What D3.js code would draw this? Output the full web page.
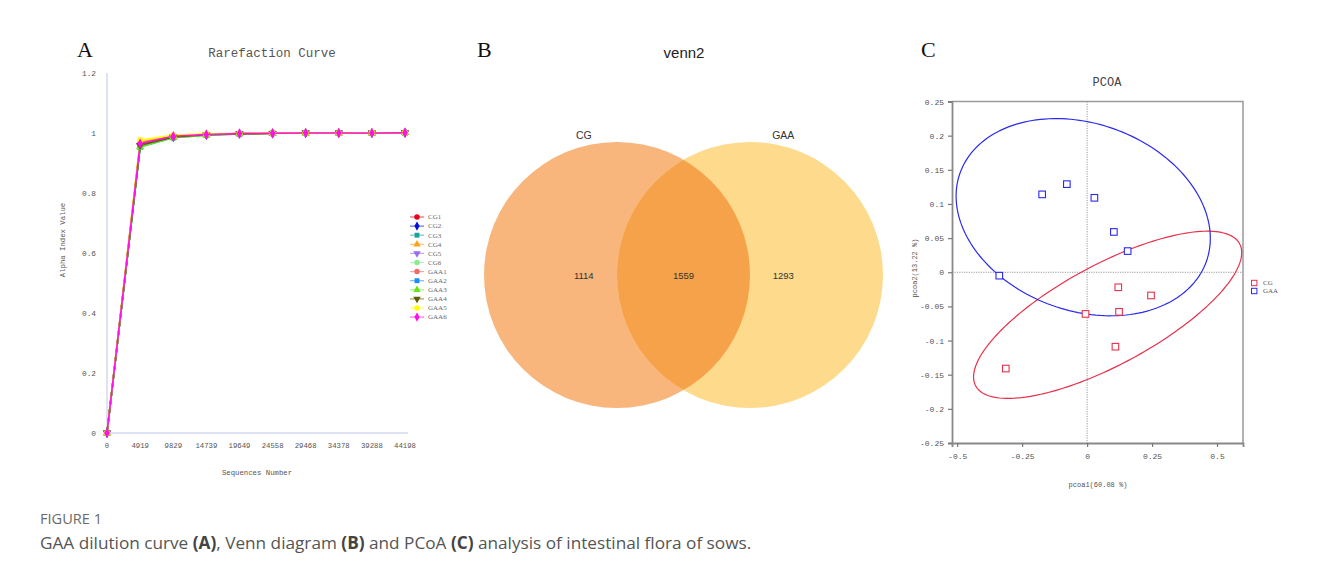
<!DOCTYPE html>
<html><head><meta charset="utf-8">
<script src="https://cdn.jsdelivr.net/npm/d3@7"></script>
<style>body{margin:0;background:#fff}svg{display:block}</style>
</head><body>
<svg id="fig" width="1319" height="577"></svg>
<script>
// ---------- Panel A data ----------
const seqNumbers = [0, 4919, 9829, 14739, 19649, 24558, 29468, 34378, 39288, 44198];
const sampleNames = ["CG1","CG2","CG3","CG4","CG5","CG6","GAA1","GAA2","GAA3","GAA4","GAA5","GAA6"];
const sampleColors = ["#e8001c","#0010e0","#1aa39a","#ffa31a","#9a6cf0","#86ee8e","#f26b6b","#1a8cff","#66e61a","#5c5c00","#ffff00","#ff10e8"];
const sampleSymbols = ["circle","diamond","square","triangle","triangleDown","circle","circle","square","triangle","triangleDown","circle","diamond"];
const alphaCG1  = [0, 0.962, 0.988, 0.995, 0.998, 0.999, 1.000, 1.000, 1.000, 1.001];
const alphaCG2  = [0, 0.960, 0.987, 0.994, 0.998, 0.999, 1.000, 1.000, 1.000, 1.001];
const alphaCG3  = [0, 0.953, 0.984, 0.993, 0.997, 0.999, 1.000, 1.000, 1.000, 1.001];
const alphaCG4  = [0, 0.970, 0.991, 0.996, 0.998, 0.999, 1.000, 1.000, 1.000, 1.001];
const alphaCG5  = [0, 0.958, 0.986, 0.994, 0.998, 0.999, 1.000, 1.000, 1.000, 1.001];
const alphaCG6  = [0, 0.955, 0.985, 0.993, 0.997, 0.999, 1.000, 1.000, 1.000, 1.001];
const alphaGAA1 = [0, 0.964, 0.989, 0.995, 0.998, 0.999, 1.000, 1.000, 1.000, 1.001];
const alphaGAA2 = [0, 0.957, 0.986, 0.994, 0.998, 0.999, 1.000, 1.000, 1.000, 1.001];
const alphaGAA3 = [0, 0.954, 0.985, 0.993, 0.997, 0.999, 1.000, 1.000, 1.000, 1.001];
const alphaGAA4 = [0, 0.959, 0.987, 0.994, 0.998, 0.999, 1.000, 1.000, 1.000, 1.001];
const alphaGAA5 = [0, 0.976, 0.993, 0.997, 0.999, 1.000, 1.000, 1.000, 1.001, 1.001];
const alphaGAA6 = [0, 0.965, 0.989, 0.995, 0.998, 0.999, 1.000, 1.000, 1.000, 1.001];
const alphaSeries = [alphaCG1,alphaCG2,alphaCG3,alphaCG4,alphaCG5,alphaCG6,alphaGAA1,alphaGAA2,alphaGAA3,alphaGAA4,alphaGAA5,alphaGAA6];
const alphaTicks = [0, 0.2, 0.4, 0.6, 0.8, 1, 1.2];

// ---------- Panel B data ----------
const vennSets = ["CG", "GAA"];
const vennCounts = [1114, 1559, 1293]; // CG only, shared, GAA only

// ---------- Panel C data ----------
const groupNames = ["CG", "GAA"];
const groupColors = ["#e8304a", "#2a2aee"];
const cgPC1  = [0.120, 0.246, -0.006, 0.123, 0.109, -0.313];
const cgPC2  = [-0.022, -0.034, -0.061, -0.058, -0.109, -0.141];
const gaaPC1 = [-0.338, -0.173, -0.078, 0.028, 0.103, 0.156];
const gaaPC2 = [-0.005, 0.114, 0.129, 0.109, 0.059, 0.031];
// confidence ellipses: centre and conjugate semi-axis vectors (data units)
const cgEllipse  = [0.079, -0.0623, 0.508, 0.104, 0.0908, -0.0646];
const gaaEllipse = [-0.015, 0.0806, 0.474, -0.0648, -0.121, -0.129];
const pcoaXTicks = [-0.5, -0.25, 0, 0.25, 0.5];
const pcoaYTicks = [-0.25,-0.2,-0.15,-0.1,-0.05,0,0.05,0.1,0.15,0.2,0.25];

const svg = d3.select("#fig");
svg.append("rect").attr("width",1319).attr("height",577).attr("fill","#fff");
const chartFont = "'Liberation Mono', 'DejaVu Sans Mono', monospace";
const fmt = d => String(+d.toFixed(2));

// panel letters
[["A",77],["B",477],["C",921]].forEach(([t,x]) => {
  svg.append("text").attr("x",x).attr("y",57).text(t)
    .attr("font-family","'Liberation Serif', serif").attr("font-size",22).attr("fill","#111");
});

// ================= Panel A =================
{
  const gA = svg.append("g");
  const x = d3.scaleLinear().domain([0,44198]).range([107,405]);
  const y = d3.scaleLinear().domain([0,1.2]).range([433,73]);
  gA.append("text").attr("x",272).attr("y",57).attr("text-anchor","middle")
    .attr("font-family",chartFont).attr("font-size",12.5).attr("fill","#555").text("Rarefaction Curve");
  gA.append("line").attr("x1",x(0)).attr("x2",x(0)).attr("y1",y(1.2)).attr("y2",y(0))
    .attr("stroke","#dde3f2").attr("stroke-width",2);
  gA.append("line").attr("x1",x(0)).attr("x2",408).attr("y1",y(0)).attr("y2",y(0))
    .attr("stroke","#dde3f2").attr("stroke-width",2);
  gA.selectAll(".yt").data(alphaTicks).enter().append("text")
    .attr("x",96).attr("y",d=>y(d)+3).attr("text-anchor","end")
    .attr("font-family",chartFont).attr("font-size",7.8).attr("fill","#555").text(d=>fmt(d));
  gA.selectAll(".xt").data(seqNumbers).enter().append("text")
    .attr("x",d=>x(d)).attr("y",448).attr("text-anchor","middle")
    .attr("font-family",chartFont).attr("font-size",7.3).attr("fill","#555").text(d=>d);
  gA.append("text").attr("x",257).attr("y",475).attr("text-anchor","middle")
    .attr("font-family",chartFont).attr("font-size",7.3).attr("fill","#555").text("Sequences Number");
  gA.append("text").attr("transform","translate(65,240) rotate(-90)").attr("text-anchor","middle")
    .attr("font-family",chartFont).attr("font-size",7.3).attr("fill","#555").text("Alpha Index Value");

  const symType = {circle:d3.symbolCircle, diamond:d3.symbolDiamond, square:d3.symbolSquare,
                   triangle:d3.symbolTriangle, triangleDown:d3.symbolTriangle};
  const line = d3.line().x((d,i)=>x(seqNumbers[i])).y(d=>y(d));
  alphaSeries.forEach((s,k) => {
    gA.append("path").attr("d",line(s)).attr("fill","none")
      .attr("stroke",sampleColors[k]).attr("stroke-width",1.6);
  });
  alphaSeries.forEach((s,k) => {
    const sym = d3.symbol().type(symType[sampleSymbols[k]]).size(30);
    gA.selectAll(null).data(s).enter().append("path")
      .attr("d",sym)
      .attr("transform",(d,i)=>`translate(${x(seqNumbers[i])},${y(d)})${sampleSymbols[k]==="triangleDown"?" rotate(180)":""}`)
      .attr("fill",sampleColors[k]);
  });
  const lg = gA.append("g");
  sampleNames.forEach((n,k) => {
    const yy = 217 + k*9.1;
    lg.append("line").attr("x1",410).attr("x2",424).attr("y1",yy).attr("y2",yy)
      .attr("stroke",sampleColors[k]).attr("stroke-width",1.2).attr("opacity",0.6);
    const sym = d3.symbol().type(symType[sampleSymbols[k]]).size(24);
    lg.append("path").attr("d",sym)
      .attr("transform",`translate(417,${yy})${sampleSymbols[k]==="triangleDown"?" rotate(180)":""}`)
      .attr("fill",sampleColors[k]);
    lg.append("text").attr("x",428).attr("y",yy+2.3).text(n)
      .attr("font-family","'Liberation Serif', serif").attr("font-size",7).attr("fill","#666");
  });
}

// ================= Panel B =================
{
  const gB = svg.append("g");
  const vx = d3.scaleLinear().domain([-1.5,1.5]).range([484,883]);
  const vy = d3.scaleLinear().domain([-1,1]).range([408,142]);
  const r = vx(1) - vx(0);
  gB.append("text").attr("x",684).attr("y",58).attr("text-anchor","middle")
    .attr("font-family","'Liberation Sans', Arial, sans-serif").attr("font-size",15).attr("fill","#222").text("venn2");
  const centers = [-0.5, 0.5];
  const fills = ["#f8b57c", "#fdda8c"];
  const defs = gB.append("defs");
  defs.append("clipPath").attr("id","clipL").append("circle")
    .attr("cx",vx(centers[0])).attr("cy",vy(0)).attr("r",r);
  centers.forEach((c,i) => {
    gB.append("circle").attr("cx",vx(c)).attr("cy",vy(0)).attr("r",r).attr("fill",fills[i]);
  });
  gB.append("circle").attr("clip-path","url(#clipL)")
    .attr("cx",vx(centers[1])).attr("cy",vy(0)).attr("r",r).attr("fill","#f6a24a");
  vennSets.forEach((s,i) => {
    gB.append("text").attr("x",vx(centers[i]*1.5)).attr("y",139).attr("text-anchor","middle")
      .attr("font-family","'Liberation Sans', Arial, sans-serif").attr("font-size",10.5).attr("fill","#333").text(s);
  });
  const countPos = [-1, 0, 1];
  vennCounts.forEach((c,i) => {
    gB.append("text").attr("x",vx(countPos[i]*0.75)).attr("y",vy(0)+3.5).attr("text-anchor","middle")
      .attr("font-family","'Liberation Sans', Arial, sans-serif").attr("font-size",9.5).attr("fill","#333").text(c);
  });
}

// ================= Panel C =================
{
  const gC = svg.append("g");
  const x = d3.scaleLinear().domain([-0.52,0.6]).range([952,1243]);
  const y = d3.scaleLinear().domain([-0.25,0.25]).range([443,101.5]);
  gC.append("text").attr("x",1107).attr("y",86).attr("text-anchor","middle")
    .attr("font-family",chartFont).attr("font-size",12).attr("fill","#444").text("PCOA");
  gC.append("line").attr("x1",x(0)).attr("x2",x(0)).attr("y1",y(0.25)).attr("y2",y(-0.25))
    .attr("stroke","#999").attr("stroke-dasharray","1.2,1.2").attr("stroke-width",1);
  gC.append("line").attr("x1",x(-0.52)).attr("x2",x(0.6)).attr("y1",y(0)).attr("y2",y(0))
    .attr("stroke","#999").attr("stroke-dasharray","1.2,1.2").attr("stroke-width",1);
  gC.append("path").attr("d",`M${x(-0.52)},${y(0.25)}H${x(0.6)}V${y(-0.25)}`)
    .attr("fill","none").attr("stroke","#9a9a9a").attr("stroke-width",1.5);
  const yAxis = d3.axisLeft(y).tickValues(pcoaYTicks).tickSize(4).tickPadding(4).tickFormat(fmt);
  const xAxis = d3.axisBottom(x).tickValues(pcoaXTicks).tickSize(4).tickPadding(6).tickFormat(fmt);
  const ya = gC.append("g").attr("transform",`translate(${x(-0.52)},0)`).call(yAxis);
  const xa = gC.append("g").attr("transform",`translate(0,${y(-0.25)})`).call(xAxis);
  [ya,xa].forEach(a => {
    a.select(".domain").attr("stroke","#888").attr("stroke-width",1.8);
    a.selectAll(".tick line").attr("stroke","#777").attr("stroke-width",1.2);
    a.selectAll(".tick text").attr("font-family",chartFont).attr("font-size",8).attr("fill","#555");
  });
  gC.append("text").attr("x",1098).attr("y",487).attr("text-anchor","middle")
    .attr("font-family",chartFont).attr("font-size",7).attr("fill","#555").text("pcoa1(60.08 %)");
  gC.append("text").attr("transform","translate(917,268) rotate(-90)").attr("text-anchor","middle")
    .attr("font-family",chartFont).attr("font-size",7).attr("fill","#555").text("pcoa2(13.22 %)");

  const ellLine = d3.line().x(d=>x(d[0])).y(d=>y(d[1])).curve(d3.curveLinearClosed);
  [cgEllipse, gaaEllipse].forEach((e,k) => {
    const pts = d3.range(0, 2*Math.PI, Math.PI/90).map(t =>
      [e[0] + e[2]*Math.cos(t) + e[4]*Math.sin(t), e[1] + e[3]*Math.cos(t) + e[5]*Math.sin(t)]);
    gC.append("path").attr("d",ellLine(pts)).attr("fill","none")
      .attr("stroke",groupColors[k]).attr("stroke-width",1.2);
  });
  const groups = [[cgPC1,cgPC2],[gaaPC1,gaaPC2]];
  groups.forEach((g,k) => {
    gC.selectAll(null).data(g[0]).enter().append("rect")
      .attr("x",(d)=>x(d)-3.3).attr("y",(d,i)=>y(g[1][i])-3.3)
      .attr("width",6.6).attr("height",6.6).attr("fill","#fff")
      .attr("stroke",groupColors[k]).attr("stroke-width",1.1);
  });
  groupNames.forEach((n,k) => {
    const yy = 283 + k*8;
    gC.append("rect").attr("x",1251.5).attr("y",yy-2.7).attr("width",5.4).attr("height",5.4)
      .attr("fill","#fff").attr("stroke",groupColors[k]).attr("stroke-width",1);
    gC.append("text").attr("x",1263).attr("y",yy+2.3).text(n)
      .attr("font-family","'Liberation Serif', serif").attr("font-size",7).attr("fill","#555");
  });
}

// ================= Caption =================
svg.append("text").attr("x",40).attr("y",524).text("FIGURE 1")
  .attr("font-family","'Open Sans', Lato, sans-serif").attr("font-size",14.6).attr("font-weight",500).attr("fill","#6a6a6a");
const cap = svg.append("text").attr("x",40).attr("y",549)
  .attr("font-family","'Open Sans', Lato, sans-serif").attr("font-size",17.2).attr("fill","#555");
[["GAA dilution curve ",false],["(A)",true],[", Venn diagram ",false],["(B)",true],[" and PCoA ",false],["(C)",true],[" analysis of intestinal flora of sows.",false]]
  .forEach(([t,b]) => cap.append("tspan").text(t).attr("font-weight",b?700:400).attr("fill",b?"#444":"#555"));
</script>
</body></html>
